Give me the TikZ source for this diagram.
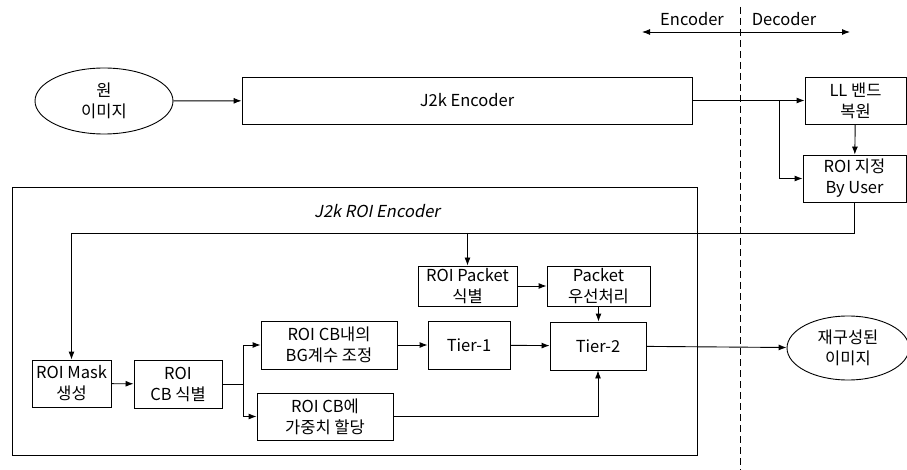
\documentclass[tikz,border=0pt]{standalone}
\usepackage{fontspec}
\setmainfont{Noto Sans CJK KR}
\newfontfamily\slantfont[FakeSlant=0.2]{Noto Sans CJK KR}
\usepackage{tikz}
\usetikzlibrary{arrows.meta,shapes,calc,positioning}

\begin{document}
\begin{tikzpicture}[x=1pt, y=-1pt, >={Latex[length=8pt,width=6pt]}, line width=0.9pt,
    every node/.style={font=\fontsize{16.5}{21}\selectfont, inner sep=0pt},
    blk/.style={draw, align=center},
    oval/.style={draw, ellipse, align=center}]
    \useasboundingbox (0,0) rectangle (907,470);

    % Encoder / Decoder split
    \draw[dash pattern=on 7pt off 4pt] (740,7) -- (740,470);
    \coordinate (encl) at (642,32);
    \coordinate (decr) at (850,32);
    \draw[<->] (encl) -- (decr);
    \node (enctxt) at (692,19) {Encoder};
    \node (dectxt) at (784,19) {Decoder};

    % Top row
    \node[oval, minimum width=138, minimum height=66] (src) at (104,101) {원\\이미지};
    \node[blk, minimum width=450, minimum height=47] (enc) at (467,100.5) {J2k Encoder};
    \node[blk, minimum width=101, minimum height=47] (ll) at (855.5,100.5) {LL 밴드\\복원};
    \node[blk, minimum width=103, minimum height=47] (roisel) at (854.5,178.5) {ROI 지정\\By User};

    % J2k ROI Encoder frame
    \node[draw, minimum width=685, minimum height=268] (roienc) at (354.5,321) {};
    \node (roienctxt) at (377,211) {\slantfont J2k ROI Encoder};

    % Inner blocks
    \node[blk, minimum width=99, minimum height=40] (pkt) at (467.5,286) {ROI Packet\\식별};
    \node[blk, minimum width=103, minimum height=40] (prio) at (598.5,286) {Packet\\우선처리};
    \node[blk, minimum width=96, minimum height=48] (tier2) at (598,346) {Tier-2};
    \node[blk, minimum width=82, minimum height=48] (tier1) at (469,345) {Tier-1};
    \node[blk, minimum width=136, minimum height=48] (bg) at (329,345) {ROI CB내의\\BG계수 조정};
    \node[blk, minimum width=79, minimum height=47] (mask) at (71.5,383.5) {ROI Mask\\생성};
    \node[blk, minimum width=88, minimum height=48] (cbid) at (178,384) {ROI\\CB 식별};
    \node[blk, minimum width=136, minimum height=47] (wgt) at (325,416.5) {ROI CB에\\가중치 할당};
    \node[oval, minimum width=122, minimum height=64] (rec) at (848,348) {재구성된\\이미지};

    % Connectors
    \draw[->] (src) -- (enc);
    \draw[->] (enc) -- (ll);
    \coordinate (br) at (779,100.5);
    \draw[->] (br) |- (roisel.west);
    \draw[->] (ll) -- (roisel);
    \coordinate (fbk) at (0,233);
    \draw[->] (roisel.south) -- (roisel.south |- fbk) -| (mask.north);
    \draw[->] (pkt.north |- fbk) -- (pkt.north);
    \draw[->] (pkt) -- (prio);
    \draw[->] (prio.south) -- (prio.south |- tier2.north);
    \draw[->] (mask) -- (cbid);
    \coordinate (split) at (243,384);
    \draw (cbid) -- (split);
    \draw[->] (split) |- (bg.west);
    \draw[->] (split) |- (wgt.west);
    \draw[->] (bg) -- (tier1);
    \draw[->] (tier1) -- (tier2);
    \draw[->] (wgt.east) -| (tier2.south);
    \draw[->] (tier2) -- (rec);
\end{tikzpicture}
\end{document}
